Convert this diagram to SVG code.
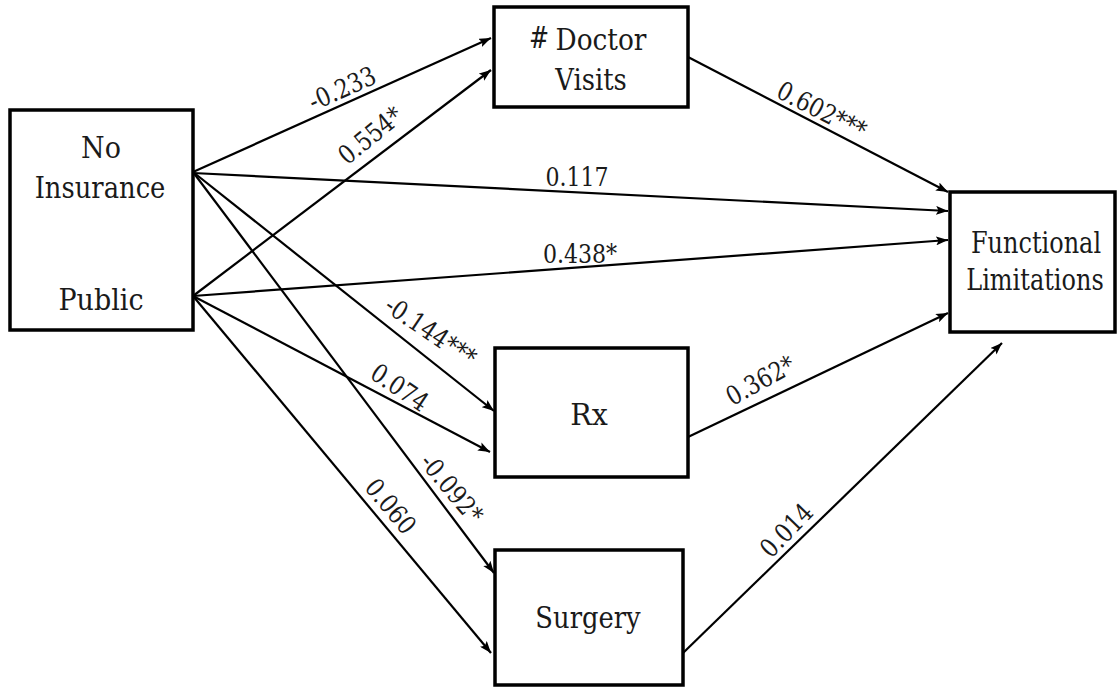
<svg xmlns="http://www.w3.org/2000/svg" width="1119" height="687" viewBox="0 0 1119 687">
<style>
.box{fill:#fff;stroke:#000;stroke-width:3.5}
text{font-family:"DejaVu Serif","Liberation Serif","Noto Serif",serif;fill:#1a1a1a;text-anchor:middle}
.node{font-size:30px}
.lbl{font-size:26px}
.edge{stroke:#000;stroke-width:2.2;fill:none}
</style>
<defs>
<marker id="ah" markerUnits="userSpaceOnUse" markerWidth="13" markerHeight="9" refX="12" refY="4.5" orient="auto">
<path d="M0,0 L12,4.5 L0,9 L2.5,4.5 z" fill="#000"/>
</marker>
</defs>
<rect width="1119" height="687" fill="#fff"/>
<g id="connectors">
<line class="edge" x1="193" y1="172" x2="491" y2="38" marker-end="url(#ah)"/>
<line class="edge" x1="193" y1="296" x2="491" y2="70" marker-end="url(#ah)"/>
<line class="edge" x1="193" y1="173" x2="948" y2="211" marker-end="url(#ah)"/>
<line class="edge" x1="193" y1="296" x2="948" y2="240" marker-end="url(#ah)"/>
<line class="edge" x1="688" y1="57" x2="948" y2="192" marker-end="url(#ah)"/>
<line class="edge" x1="193" y1="172" x2="494" y2="411" marker-end="url(#ah)"/>
<line class="edge" x1="193" y1="296" x2="490" y2="452" marker-end="url(#ah)"/>
<line class="edge" x1="193" y1="172" x2="494" y2="573" marker-end="url(#ah)"/>
<line class="edge" x1="193" y1="296" x2="491" y2="653" marker-end="url(#ah)"/>
<line class="edge" x1="688" y1="437" x2="948" y2="313" marker-end="url(#ah)"/>
<line class="edge" x1="683" y1="653" x2="1002" y2="343" marker-end="url(#ah)"/>
<text class="lbl" transform="translate(342,88) rotate(-24) scale(0.85,1)" y="9.5">-0.233</text>
<text class="lbl" transform="translate(370,135) rotate(-39) scale(0.85,1)" y="9.5">0.554*</text>
<text class="lbl" transform="translate(577,176) scale(0.85,1)" y="9.5">0.117</text>
<text class="lbl" transform="translate(580,253) scale(0.85,1)" y="9.5">0.438*</text>
<text class="lbl" transform="translate(822,110) rotate(27) scale(0.85,1)" y="9.5">0.602***</text>
<text class="lbl" transform="translate(431,331) rotate(34) scale(0.85,1)" y="9.5">-0.144***</text>
<text class="lbl" transform="translate(400,387) rotate(34) scale(0.85,1)" y="9.5">0.074</text>
<text class="lbl" transform="translate(452,488) rotate(50) scale(0.85,1)" y="9.5">-0.092*</text>
<text class="lbl" transform="translate(391,506) rotate(50) scale(0.85,1)" y="9.5">0.060</text>
<text class="lbl" transform="translate(760,380) rotate(-29) scale(0.85,1)" y="9.5">0.362*</text>
<text class="lbl" transform="translate(786,530) rotate(-46) scale(0.85,1)" y="9.5">0.014</text>
</g>
<g id="insurance">
<rect class="box" x="10" y="110" width="183" height="220"/>
<text class="node" transform="translate(101,158) scale(0.9,1)">No</text>
<text class="node" transform="translate(100,198) scale(0.86,1)">Insurance</text>
<text class="node" transform="translate(101,310) scale(0.9,1)">Public</text>
</g>
<g id="doctor">
<rect class="box" x="494" y="7" width="194" height="100"/>
<text class="node" transform="translate(539,48) scale(0.8,1)" font-size="18">#</text>
<text class="node" transform="translate(601,50) scale(0.88,1)">Doctor</text>
<text class="node" transform="translate(591,90) scale(0.86,1)">Visits</text>
</g>
<g id="rx">
<rect class="box" x="495" y="348" width="193" height="129"/>
<text class="node" transform="translate(589,425) scale(0.95,1)">Rx</text>
</g>
<g id="surgery">
<rect class="box" x="495" y="550" width="188" height="135"/>
<text class="node" transform="translate(588,628) scale(0.86,1)">Surgery</text>
</g>
<g id="functional">
<rect class="box" x="950" y="192" width="165" height="140"/>
<text class="node" transform="translate(1036,253) scale(0.8,1)">Functional</text>
<text class="node" transform="translate(1035,290) scale(0.8,1)">Limitations</text>
</g>
</svg>
